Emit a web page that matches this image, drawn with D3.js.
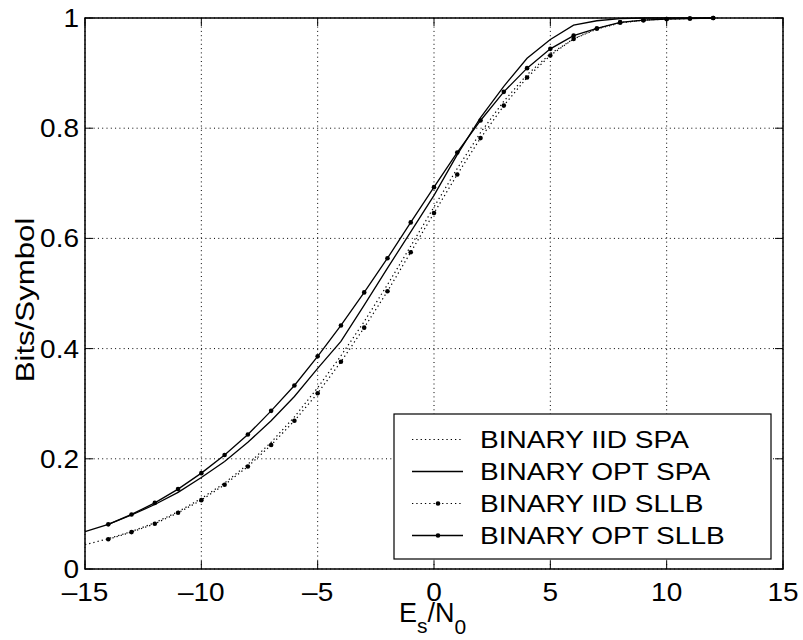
<!DOCTYPE html>
<html>
<head>
<meta charset="utf-8">
<script src="https://cdn.jsdelivr.net/npm/d3@7"></script>
<style>
  body { margin: 0; background: #fff; }
  text { font-family: "Liberation Sans", Arial, Helvetica, sans-serif; fill: #000; }
</style>
</head>
<body>
<div id="main"></div>
<script>
// x values (Es/N0 in dB)
const xSpa = d3.range(-15, 13);
const xSllb = d3.range(-14, 13);

const iidSpa = [0.044, 0.055, 0.068, 0.084, 0.104, 0.128, 0.156, 0.190, 0.230, 0.276,
    0.329, 0.387, 0.449, 0.516, 0.586, 0.657, 0.727, 0.792, 0.849, 0.897,
    0.935, 0.962, 0.980, 0.991, 0.996, 0.999, 1.0, 1.0];
const optSpa = [0.068, 0.081, 0.098, 0.117, 0.139, 0.166, 0.195, 0.230, 0.269, 0.313,
    0.364, 0.413, 0.479, 0.546, 0.612, 0.678, 0.752, 0.819, 0.876, 0.927,
    0.961, 0.987, 0.995, 0.999, 1.0, 1.0, 1.0, 1.0];
const iidSllb = [0.054, 0.067, 0.082, 0.102, 0.125, 0.153, 0.186, 0.225, 0.269,
    0.319, 0.376, 0.438, 0.504, 0.575, 0.646, 0.716, 0.782, 0.841, 0.892,
    0.932, 0.962, 0.981, 0.992, 0.996, 0.998, 0.999, 1.0];
const optSllb = [0.081, 0.099, 0.120, 0.145, 0.174, 0.207, 0.244, 0.287, 0.333,
    0.386, 0.442, 0.502, 0.564, 0.629, 0.693, 0.756, 0.814, 0.866, 0.909,
    0.944, 0.968, 0.981, 0.992, 0.996, 0.998, 0.999, 1.0];

const legendLabels = ["BINARY IID SPA", "BINARY OPT SPA", "BINARY IID SLLB", "BINARY OPT SLLB"];
const xTicks = [-15, -10, -5, 0, 5, 10, 15];
const yTicks = [0, 0.2, 0.4, 0.6, 0.8, 1];

const width = 803;
const height = 640;
const plotLeft = 85, plotRight = 783, plotTop = 18, plotBottom = 569;

const svg = d3.select("#main")
    .append("svg")
    .attr("width", width)
    .attr("height", height);

const x = d3.scaleLinear().domain([-15, 15]).range([plotLeft, plotRight]);
const y = d3.scaleLinear().domain([0, 1]).range([plotBottom, plotTop]);

// grid
svg.append("g")
    .selectAll("line")
    .data(xTicks)
    .join("line")
    .attr("x1", d => x(d)).attr("x2", d => x(d))
    .attr("y1", plotTop).attr("y2", plotBottom)
    .attr("stroke", "#000")
    .attr("stroke-width", 1)
    .attr("stroke-dasharray", "1,3.3");

svg.append("g")
    .selectAll("line")
    .data(yTicks)
    .join("line")
    .attr("y1", d => y(d)).attr("y2", d => y(d))
    .attr("x1", plotLeft).attr("x2", plotRight)
    .attr("stroke", "#000")
    .attr("stroke-width", 1)
    .attr("stroke-dasharray", "1,3.3");

// series
const series = [
    { xs: xSpa, ys: iidSpa, dash: "1.3,3", dots: false },
    { xs: xSpa, ys: optSpa, dash: null, dots: false },
    { xs: xSllb, ys: iidSllb, dash: "1.3,3", dots: true },
    { xs: xSllb, ys: optSllb, dash: null, dots: true }
];

const line = d3.line()
    .x(d => x(d[0]))
    .y(d => y(d[1]));

series.forEach(s => {
    const pts = s.xs.map((v, i) => [v, s.ys[i]]);
    svg.append("path")
        .datum(pts)
        .attr("fill", "none")
        .attr("stroke", "#000")
        .attr("stroke-width", s.dash ? 1.2 : 1.3)
        .attr("stroke-dasharray", s.dash)
        .attr("d", line);
    if (s.dots) {
        svg.append("g")
            .selectAll("circle")
            .data(pts)
            .join("circle")
            .attr("cx", d => x(d[0]))
            .attr("cy", d => y(d[1]))
            .attr("r", 2.3)
            .attr("fill", "#000");
    }
});

// axes box
svg.append("rect")
    .attr("x", plotLeft).attr("y", plotTop)
    .attr("width", plotRight - plotLeft).attr("height", plotBottom - plotTop)
    .attr("fill", "none")
    .attr("stroke", "#000")
    .attr("stroke-width", 1.5);

// inward ticks
const tickLen = 8;
xTicks.forEach(t => {
    svg.append("line").attr("x1", x(t)).attr("x2", x(t)).attr("y1", plotBottom).attr("y2", plotBottom - tickLen).attr("stroke", "#000");
    svg.append("line").attr("x1", x(t)).attr("x2", x(t)).attr("y1", plotTop).attr("y2", plotTop + tickLen).attr("stroke", "#000");
});
yTicks.forEach(t => {
    svg.append("line").attr("y1", y(t)).attr("y2", y(t)).attr("x1", plotLeft).attr("x2", plotLeft + tickLen).attr("stroke", "#000");
    svg.append("line").attr("y1", y(t)).attr("y2", y(t)).attr("x1", plotRight).attr("x2", plotRight - tickLen).attr("stroke", "#000");
});

// tick labels (stretched wider, like the original font)
const stretch = 1.12;
svg.append("g")
    .selectAll("text")
    .data(xTicks)
    .join("text")
    .attr("transform", d => "translate(" + x(d) + ",601) scale(" + stretch + ",1)")
    .attr("text-anchor", "middle")
    .style("font-size", "25px")
    .text(d => d < 0 ? "\u2013" + Math.abs(d) : d);

svg.append("g")
    .selectAll("text")
    .data(yTicks)
    .join("text")
    .attr("transform", d => "translate(79," + (y(d) + 9) + ") scale(" + stretch + ",1)")
    .attr("text-anchor", "end")
    .style("font-size", "25px")
    .text(d => d);

// axis titles
svg.append("text")
    .attr("transform", "translate(34,300) rotate(-90) scale(1.2,1)")
    .attr("text-anchor", "middle")
    .style("font-size", "26px")
    .text("Bits/Symbol");

const xl = svg.append("text")
    .attr("x", 399)
    .attr("y", 622)
    .style("font-size", "27px");
xl.append("tspan").text("E");
xl.append("tspan").attr("dy", 11).style("font-size", "21px").text("s");
xl.append("tspan").attr("dy", -11).text("/N");
xl.append("tspan").attr("dy", 12).style("font-size", "21px").text("0");

// legend
const legend = svg.append("g").attr("id", "legend");
legend.append("rect")
    .attr("x", 394).attr("y", 414)
    .attr("width", 377).attr("height", 145)
    .attr("fill", "#fff")
    .attr("stroke", "#000")
    .attr("stroke-width", 1.2);

legendLabels.forEach((lab, i) => {
    const ly = 439.5 + i * 32;
    const s = series[i];
    legend.append("line")
        .attr("x1", 412).attr("x2", 463)
        .attr("y1", ly).attr("y2", ly)
        .attr("stroke", "#000")
        .attr("stroke-width", s.dash ? 1.2 : 1.3)
        .attr("stroke-dasharray", s.dash);
    if (s.dots) {
        legend.append("circle")
            .attr("cx", 438).attr("cy", ly)
            .attr("r", 2.3)
            .attr("fill", "#000");
    }
    legend.append("text")
        .attr("transform", "translate(480," + (ly + 8.5) + ") scale(1.22,1)")
        .style("font-size", "23px")
        .text(lab);
});
</script>
</body>
</html>
